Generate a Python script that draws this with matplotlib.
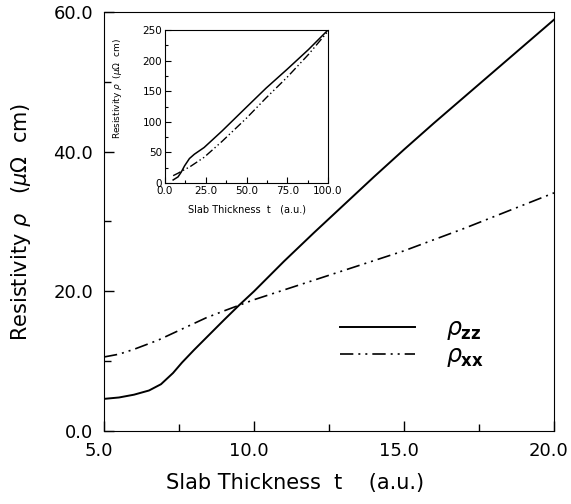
import numpy as np
import matplotlib.pyplot as plt
from matplotlib.transforms import ScaledTranslation

# main panel, values
t_zz = [5.0, 5.5, 6.0, 6.5, 6.9, 7.3, 7.6, 8.0, 9.0, 9.5, 10.0, 11.0, 12.0, 13.0, 14.0, 15.0, 16.0, 17.0, 18.0, 19.0, 20.0]
rho_zz = [4.6, 4.8, 5.2, 5.8, 6.7, 8.3, 9.8, 11.6, 15.9, 18.0, 20.0, 24.3, 28.4, 32.4, 36.4, 40.3, 44.1, 47.8, 51.5, 55.2, 58.9]
t_xx = [5.0, 5.5, 6.0, 6.8, 7.5, 8.4, 9.0, 9.5, 10.0, 11.0, 12.0, 13.0, 14.0, 15.0, 16.0, 17.0, 18.0, 19.0, 20.0]
rho_xx = [10.6, 11.0, 11.7, 13.0, 14.4, 16.2, 17.2, 18.0, 18.8, 20.2, 21.6, 23.0, 24.4, 25.8, 27.4, 29.0, 30.7, 32.4, 34.1]

# inset
t_in_zz = [5, 8, 10, 12, 15, 18, 24, 35, 50, 62, 75, 88, 100]
rin_zz = [5, 10, 18, 28, 40, 47, 58, 85, 124, 155, 186, 218, 250]
t_in_xx = [5, 8, 10, 12, 15, 24, 35, 50, 62, 75, 88, 100]
rin_xx = [12, 16, 19, 22, 26, 42, 68, 106, 139, 173, 210, 248]

dashdot2 = (0, (8, 3, 1.2, 3, 1.2, 3))

fig = plt.figure(figsize=(5.71, 5.04), dpi=100)
ax = fig.add_axes([104/571, 1-431/504, 450/571, 419/504])
ax.plot(t_zz, rho_zz, color='black', lw=1.4)
ax.plot(t_xx, rho_xx, color='black', lw=1.2, linestyle=dashdot2)
ax.set_xlim(5, 20)
ax.set_ylim(0, 60)
ax.set_xticks([5, 10, 15, 20])
ax.set_xticklabels(['5.0', '10.0', '15.0', '20.0'])
ax.set_yticks([0, 20, 40, 60])
ax.set_yticklabels(['0.0', '20.0', '40.0', '60.0'])
ax.set_xticks([7.5, 12.5, 17.5], minor=True)
ax.set_yticks([10, 30, 50], minor=True)
ax.tick_params(direction='in', length=7, width=1, labelsize=13, pad=8, which='major')
ax.tick_params(direction='in', length=5, width=1, which='minor')
# labels sit a little left of their ticks in the original
shift = ScaledTranslation(-5/100, 0, fig.dpi_scale_trans)
for lab in ax.get_xticklabels():
    lab.set_transform(lab.get_transform() + shift)
ax.set_xlabel('Slab Thickness  t    (a.u.)', fontsize=15)
ax.xaxis.set_label_coords(0.424, -0.10)
ax.set_ylabel(r'Resistivity $\rho$   ($\mu\Omega$  cm)', fontsize=15)
ax.yaxis.set_label_coords(-0.158, 0.5)

# hand-drawn legend
ax.plot([0.524, 0.69], [0.248, 0.248], color='black', lw=1.4, transform=ax.transAxes)
ax.plot([0.524, 0.69], [0.184, 0.184], color='black', lw=1.2, linestyle=dashdot2, transform=ax.transAxes)
ax.text(0.76, 0.24, r'$\rho_{\mathbf{zz}}$', fontsize=17, va='center', transform=ax.transAxes)
ax.text(0.76, 0.176, r'$\rho_{\mathbf{xx}}$', fontsize=17, va='center', transform=ax.transAxes)

ins = fig.add_axes([165/571, 1-183/504, 163/571, 153/504])
ins.plot(t_in_zz, rin_zz, color='black', lw=1.1)
ins.plot(t_in_xx, rin_xx, color='black', lw=1.0, linestyle=(0, (6, 2, 1, 2, 1, 2)))
ins.set_xlim(0, 100)
ins.set_ylim(0, 250)
ins.set_xticks([0, 25, 50, 75, 100])
ins.set_xticklabels(['0.0', '25.0', '50.0', '75.0', '100.0'])
ins.set_yticks([0, 50, 100, 150, 200, 250])
ins.set_xticks([12.5, 37.5, 62.5, 87.5], minor=True)
ins.set_yticks([25, 75, 125, 175, 225], minor=True)
ins.tick_params(direction='in', length=4, width=0.8, labelsize=7.5, pad=2, which='major')
ins.tick_params(direction='in', length=2.5, width=0.8, which='minor')
ins.set_xlabel('Slab Thickness  t   (a.u.)', fontsize=7)
ins.xaxis.set_label_coords(0.5, -0.14)
ins.set_ylabel(r'Resistivity $\rho$  ($\mu\Omega$  cm)', fontsize=6.5)
ins.yaxis.set_label_coords(-0.25, 0.62)

fig.savefig('out.png', dpi=100)
